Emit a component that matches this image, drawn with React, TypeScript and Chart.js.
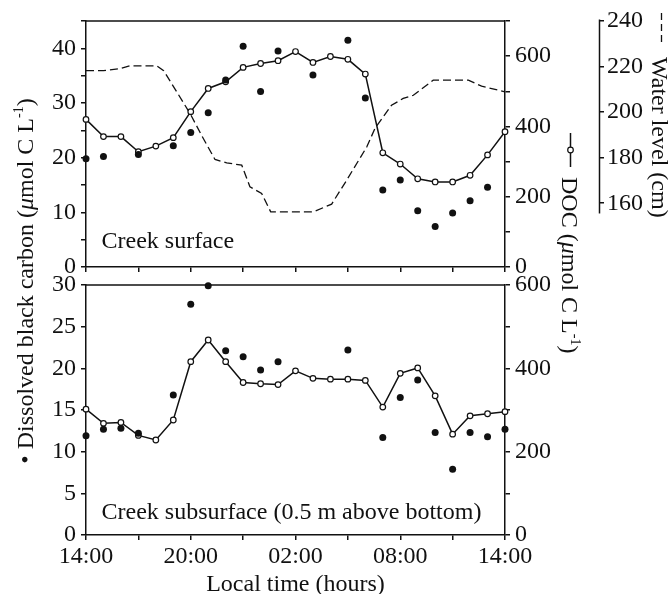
import React, { useEffect, useRef } from 'react';
import { Chart, registerables } from 'chart.js';

Chart.register(...registerables);

// ---------- data ----------
const hours = [0, 1, 2, 3, 4, 5, 6, 7, 8, 9, 10, 11, 12, 13, 14, 15, 16, 17, 18, 19, 20, 21, 22, 23, 24];
const xTickLabels = ['14:00', '20:00', '02:00', '08:00', '14:00'];

const surfaceDoc = [420, 371, 371, 328, 344, 368, 442, 508, 527, 568, 579, 587, 613, 582, 599, 591, 549, 325, 293, 251, 242, 242, 261, 319, 385];
const surfaceBc = [19.8, 20.2, null, 20.6, null, 22.2, 24.6, 28.2, 34.2, 40.4, 32.1, 39.5, null, 35.1, null, 41.5, 30.9, 14.1, 15.9, 10.3, 7.4, 9.9, 12.1, 14.6, null];

const subsurfaceDoc = [302, 268, 270, 239, 228, 276, 416, 468, 416, 366, 363, 361, 394, 376, 374, 374, 371, 307, 388, 401, 334, 242, 286, 291, 296];
const subsurfaceBc = [11.9, 12.7, 12.8, 12.2, null, 16.8, 27.7, 29.9, 22.1, 21.4, 19.8, 20.8, null, null, null, 22.2, null, 11.7, 16.5, 18.6, 12.3, 7.9, 12.3, 11.8, 12.7];

const waterHours = [0, 1, 1.95, 2.5, 4.05, 4.45, 5.96, 6.72, 7.39, 8.06, 8.92, 9.39, 10.06, 10.58, 13.02, 14.07, 14.93, 16.08, 16.55, 17.5, 18.17, 18.75, 19.89, 21.9, 22.66, 24];
const waterLevel = [218.2, 218.2, 219.1, 220.3, 220.3, 218.2, 199.4, 188.4, 179.2, 177.7, 176.7, 167.2, 164.3, 156.2, 156.2, 159.6, 170.1, 184.7, 192.8, 203.0, 206.0, 207.4, 214.0, 214.0, 211.4, 208.9];

const surfaceBcTicks = [0, 10, 20, 30, 40];
const subsurfaceBcTicks = [0, 5, 10, 15, 20, 25, 30];
const docTicks = [0, 200, 400, 600];
const waterTicks = [160, 180, 200, 220, 240];
const waterAxisRange = [155.5, 240];

// ---------- styles ----------
const W = 671;
const H = 594;
const SERIF = '"Liberation Serif", "Times New Roman", Times, serif';
const FS = 24;
const INK = '#111';
const tickFont = { family: SERIF, size: FS };

type Part = { t: string; italic?: boolean; sup?: boolean };

function partFont(p: Part) {
  const size = p.sup ? Math.round(FS * 0.6) : FS;
  return `${p.italic ? 'italic ' : ''}${size}px ${SERIF}`;
}

function drawParts(ctx: CanvasRenderingContext2D, parts: Part[], x: number, y: number, angle: number, center: boolean) {
  ctx.save();
  ctx.translate(x, y);
  ctx.rotate(angle);
  ctx.textAlign = 'left';
  ctx.textBaseline = 'alphabetic';
  ctx.fillStyle = INK;
  let total = 0;
  for (const p of parts) {
    ctx.font = partFont(p);
    total += ctx.measureText(p.t).width;
  }
  let cx = center ? -total / 2 : 0;
  for (const p of parts) {
    ctx.font = partFont(p);
    ctx.fillText(p.t, cx, p.sup ? -FS * 0.38 : 0);
    cx += ctx.measureText(p.t).width;
  }
  ctx.restore();
}

const unitParts = (prefix: string): Part[] => [
  { t: prefix + ' (' },
  { t: 'μ', italic: true },
  { t: 'mol C L' },
  { t: '-1', sup: true },
  { t: ')' },
];

function yAxis(opts: any) {
  const { min, max, step, labels, position, width, padding } = opts;
  return {
    type: 'linear',
    position,
    min,
    max,
    ticks: {
      stepSize: step,
      autoSkip: false,
      font: tickFont,
      color: INK,
      padding,
      callback: (v: number) => (labels.includes(v) ? String(v) : ''),
    },
    grid: { drawOnChartArea: false, tickLength: 5, color: INK, lineWidth: 1.5 },
    border: { color: INK, width: 1.5 },
    afterFit: (s: any) => {
      s.width = width;
    },
  };
}

function xAxis(showLabels: boolean, height: number) {
  return {
    type: 'linear',
    min: 0,
    max: 24,
    ticks: {
      display: showLabels,
      stepSize: 3,
      autoSkip: false,
      maxRotation: 0,
      minRotation: 0,
      font: tickFont,
      color: INK,
      padding: 2,
      callback: (v: number) => (v % 6 === 0 ? xTickLabels[v / 6] : ''),
    },
    title: showLabels
      ? {
          display: true,
          text: 'Local time (hours)',
          color: INK,
          font: { family: SERIF, size: FS, lineHeight: 0.6 },
          padding: { top: 0, bottom: 2 },
        }
      : { display: false },
    grid: { drawOnChartArea: false, tickLength: 5, color: INK, lineWidth: 1.5 },
    border: { color: INK, width: 1.5 },
    afterFit: (s: any) => {
      s.height = height;
    },
  };
}

const pts = (xs: number[], ys: (number | null)[]) => xs.map((x, i) => ({ x, y: ys[i] }));

function docDataset(values: number[]) {
  return {
    label: 'DOC',
    data: pts(hours, values),
    yAxisID: 'yDoc',
    borderColor: INK,
    borderWidth: 1.5,
    pointRadius: 2.8,
    pointBackgroundColor: '#fff',
    pointBorderColor: INK,
    pointBorderWidth: 1.2,
    tension: 0,
    clip: false,
  };
}

function bcDataset(values: (number | null)[]) {
  return {
    label: 'Dissolved black carbon',
    data: pts(hours, values),
    yAxisID: 'yBc',
    showLine: false,
    pointRadius: 3.5,
    pointBackgroundColor: INK,
    pointBorderColor: INK,
    pointBorderWidth: 0,
    clip: false,
  };
}

const frameTop = {
  id: 'frameTop',
  afterDraw(chart: any) {
    const { ctx, chartArea } = chart;
    ctx.save();
    ctx.strokeStyle = INK;
    ctx.lineWidth = 1.5;
    ctx.beginPath();
    ctx.moveTo(chartArea.left, chartArea.top);
    ctx.lineTo(chartArea.right, chartArea.top);
    ctx.stroke();
    ctx.restore();
  },
};

const topDecor = {
  id: 'topDecor',
  afterDraw(chart: any) {
    const { ctx } = chart;
    const ws = chart.scales.yWater;
    ctx.save();
    // water level axis line (partial)
    ctx.strokeStyle = INK;
    ctx.lineWidth = 1.5;
    ctx.beginPath();
    ctx.moveTo(ws.left + 0.5, ws.getPixelForValue(waterAxisRange[1]) - 1.5);
    ctx.lineTo(ws.left + 0.5, ws.getPixelForValue(waterAxisRange[0]));
    ctx.stroke();

    // panel label
    ctx.fillStyle = INK;
    ctx.font = `${FS}px ${SERIF}`;
    ctx.textAlign = 'left';
    ctx.textBaseline = 'alphabetic';
    ctx.fillText('Creek surface', 101.5, 247.5);

    // left title
    drawParts(ctx, unitParts('• Dissolved black carbon'), 32.5, 281, -Math.PI / 2, true);

    // DOC title with symbol
    ctx.strokeStyle = INK;
    ctx.lineWidth = 1.5;
    ctx.beginPath();
    ctx.moveTo(570.5, 133);
    ctx.lineTo(570.5, 167);
    ctx.stroke();
    ctx.beginPath();
    ctx.arc(570.5, 150, 2.8, 0, Math.PI * 2);
    ctx.fillStyle = '#fff';
    ctx.fill();
    ctx.lineWidth = 1.2;
    ctx.stroke();
    drawParts(ctx, unitParts('DOC'), 562, 177, Math.PI / 2, false);

    // water level title with dashed symbol
    ctx.setLineDash([7, 4]);
    ctx.lineWidth = 1.3;
    ctx.beginPath();
    ctx.moveTo(661.5, 13);
    ctx.lineTo(661.5, 46);
    ctx.stroke();
    ctx.setLineDash([]);
    drawParts(ctx, [{ t: 'Water level (cm)' }], 651.5, 57, Math.PI / 2, false);
    ctx.restore();
  },
};

const bottomDecor = {
  id: 'bottomDecor',
  afterDraw(chart: any) {
    const { ctx } = chart;
    ctx.save();
    ctx.fillStyle = INK;
    ctx.font = `${FS}px ${SERIF}`;
    ctx.textAlign = 'left';
    ctx.textBaseline = 'alphabetic';
    ctx.fillText('Creek subsurface (0.5 m above bottom)', 101.5, 518.5);
    ctx.restore();
  },
};

function topConfig(): any {
  return {
    type: 'line',
    data: {
      datasets: [
        bcDataset(surfaceBc),
        docDataset(surfaceDoc),
        {
          label: 'Water level',
          data: pts(waterHours, waterLevel),
          yAxisID: 'yWater',
          borderColor: INK,
          borderWidth: 1.3,
          borderDash: [8, 4],
          pointRadius: 0,
          tension: 0,
        },
      ],
    },
    options: {
      responsive: false,
      animation: false,
      devicePixelRatio: 1,
      layout: { padding: { left: 0, right: 0, top: 21, bottom: H - 267 - 10 } },
      plugins: { legend: { display: false }, tooltip: { enabled: false } },
      events: [],
      scales: {
        x: xAxis(false, 10),
        yBc: yAxis({ min: 0, max: 45, step: 5, labels: surfaceBcTicks, position: 'left', width: 86, padding: 5 }),
        yDoc: yAxis({ min: 0, max: 700, step: 100, labels: docTicks, position: 'right', width: 94, padding: 5 }),
        yWater: {
          type: 'linear',
          position: 'right',
          min: 132,
          max: 240,
          afterBuildTicks: (s: any) => {
            s.ticks = waterTicks.map((v) => ({ value: v }));
          },
          ticks: { font: tickFont, color: INK, padding: 3, autoSkip: false, callback: (v: number) => String(v) },
          grid: { drawOnChartArea: false, tickLength: 5, color: INK, lineWidth: 1.5 },
          border: { display: false },
          afterFit: (s: any) => {
            s.width = W - 599;
          },
        },
      },
    },
    plugins: [frameTop, topDecor],
  };
}

function bottomConfig(): any {
  return {
    type: 'line',
    data: {
      datasets: [bcDataset(subsurfaceBc), docDataset(subsurfaceDoc)],
    },
    options: {
      responsive: false,
      animation: false,
      devicePixelRatio: 1,
      layout: { padding: { left: 0, right: W - 599, top: 285, bottom: 0 } },
      plugins: { legend: { display: false }, tooltip: { enabled: false } },
      events: [],
      scales: {
        x: xAxis(true, H - 535),
        yBc: yAxis({ min: 0, max: 30, step: 5, labels: subsurfaceBcTicks, position: 'left', width: 86, padding: 5 }),
        yDoc: yAxis({ min: 0, max: 600, step: 100, labels: docTicks, position: 'right', width: 94, padding: 5 }),
      },
    },
    plugins: [frameTop, bottomDecor],
  };
}

export default function App() {
  const topRef = useRef<HTMLCanvasElement>(null);
  const botRef = useRef<HTMLCanvasElement>(null);

  useEffect(() => {
    const top = new Chart(topRef.current!, topConfig());
    const bot = new Chart(botRef.current!, bottomConfig());
    return () => {
      top.destroy();
      bot.destroy();
    };
  }, []);

  const canvasStyle: React.CSSProperties = { position: 'absolute', left: 0, top: 0, width: W, height: H };
  return (
    <div style={{ position: 'absolute', left: 0, top: 0, width: W, height: H, background: '#fff', overflow: 'hidden' }}>
      <canvas ref={botRef} width={W} height={H} style={canvasStyle} />
      <canvas ref={topRef} width={W} height={H} style={canvasStyle} />
    </div>
  );
}
